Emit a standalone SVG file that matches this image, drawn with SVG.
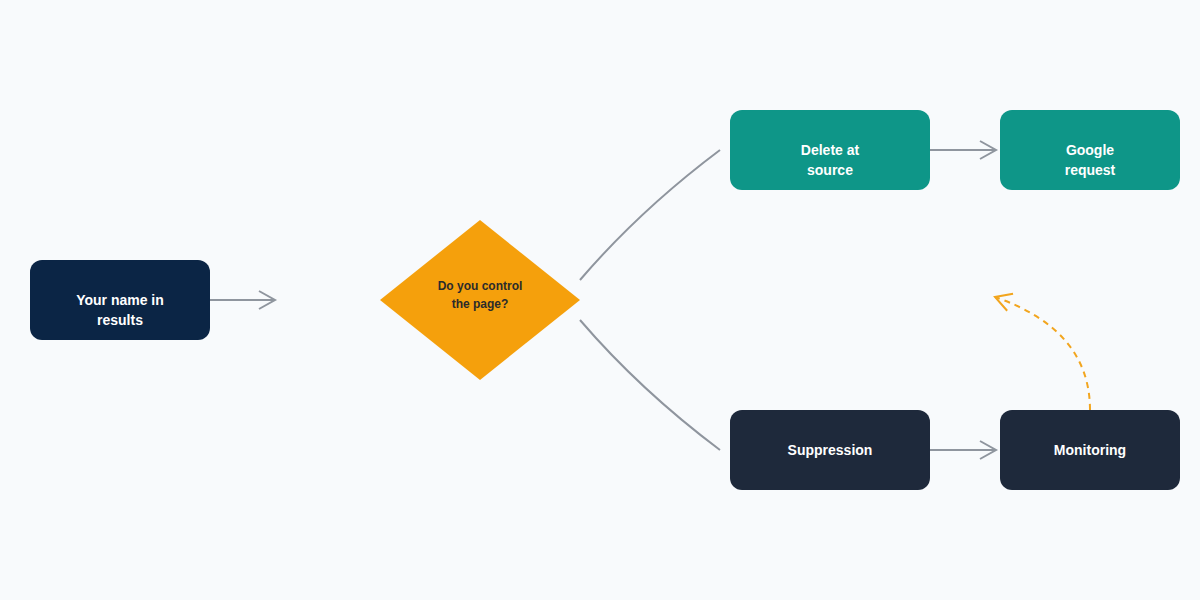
<svg xmlns="http://www.w3.org/2000/svg" width="1200" height="600" viewBox="0 0 1200 600">
<style>
.t{font-family:"Liberation Sans",Arial,sans-serif;font-weight:bold;font-size:14px;fill:#fff;text-anchor:middle}
.c{fill:none;stroke:#8f959e;stroke-width:2}
</style>
<defs>
<marker id="a" markerWidth="20" markerHeight="20" refX="17" refY="10" orient="auto" markerUnits="userSpaceOnUse"><path d="M1,1 L17,10 L1,19" fill="none" stroke="#8f959e" stroke-width="2"/></marker>
<marker id="o" markerWidth="20" markerHeight="20" refX="17" refY="10" orient="auto" markerUnits="userSpaceOnUse"><path d="M1,1 L17,10 L1,19" fill="none" stroke="#f2a51e" stroke-width="2"/></marker>
</defs>
<rect width="1200" height="600" fill="#f8fafc"/>
<g id="connectors">
<path class="c" d="M210,300 H275" marker-end="url(#a)"/>
<path class="c" d="M580,280 Q640,210 720,150"/>
<path class="c" d="M580,320 Q640,390 720,450"/>
<path class="c" d="M930,150 H996" marker-end="url(#a)"/>
<path class="c" d="M930,450 H996" marker-end="url(#a)"/>
<path d="M1090,410 Q1090,330 995,297" fill="none" stroke="#f2a51e" stroke-width="2" stroke-dasharray="6,5" marker-end="url(#o)"/>
</g>
<g id="n1"><rect x="30" y="260" width="180" height="80" rx="12" fill="#0b2545"/><text class="t" x="120" y="305">Your name in</text><text class="t" x="120" y="325">results</text></g>
<g id="n2"><polygon points="480,220 580,300 480,380 380,300" fill="#f5a00c"/><text class="t" x="480" y="290" style="font-size:12px;fill:#2b2b2b">Do you control</text><text class="t" x="480" y="308" style="font-size:12px;fill:#2b2b2b">the page?</text></g>
<g id="n3"><rect x="730" y="110" width="200" height="80" rx="12" fill="#0e9688"/><text class="t" x="830" y="155">Delete at</text><text class="t" x="830" y="175">source</text></g>
<g id="n4"><rect x="1000" y="110" width="180" height="80" rx="12" fill="#0e9688"/><text class="t" x="1090" y="155">Google</text><text class="t" x="1090" y="175">request</text></g>
<g id="n5"><rect x="730" y="410" width="200" height="80" rx="12" fill="#1e293b"/><text class="t" x="830" y="455">Suppression</text></g>
<g id="n6"><rect x="1000" y="410" width="180" height="80" rx="12" fill="#1e293b"/><text class="t" x="1090" y="455">Monitoring</text></g>
</svg>
